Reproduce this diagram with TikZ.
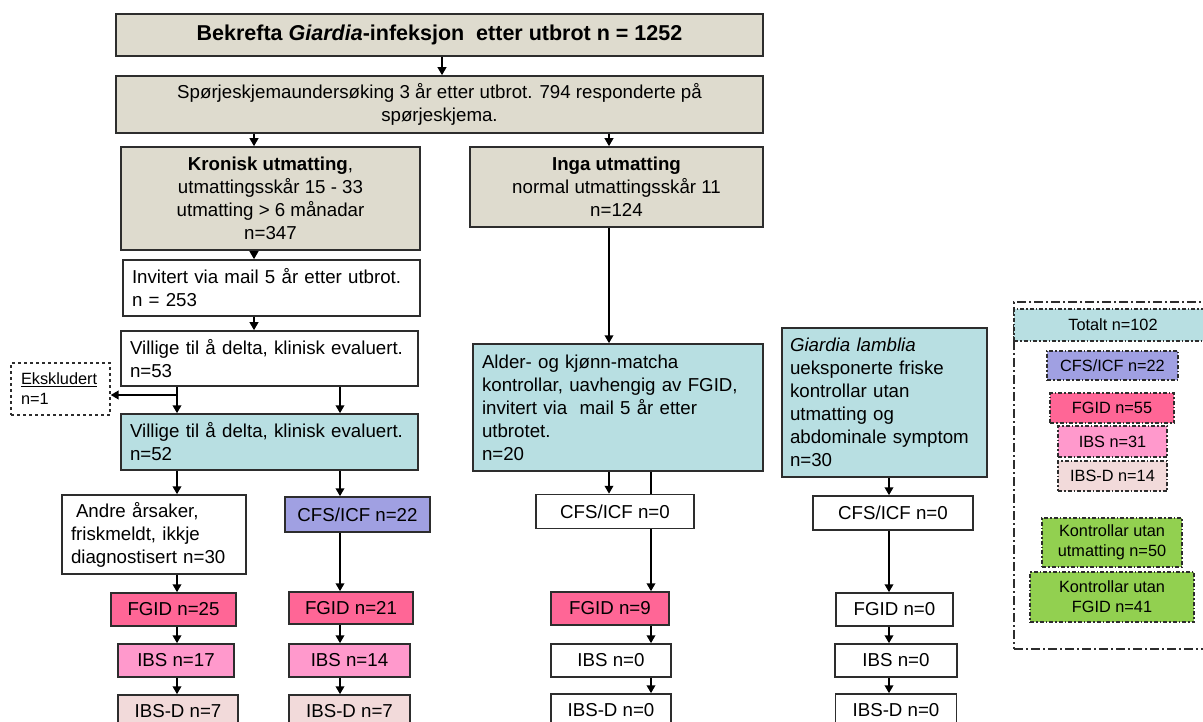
\documentclass[tikz,border=0pt]{standalone}
\usepackage{fontspec}
\setmainfont{Liberation Sans}
\usetikzlibrary{arrows.meta,positioning}

\definecolor{flowtan}{RGB}{222,219,206}
\definecolor{flowaqua}{RGB}{184,223,226}
\definecolor{cfsblue}{RGB}{160,160,226}
\definecolor{fgidpink}{RGB}{255,102,150}
\definecolor{ibspink}{RGB}{255,153,204}
\definecolor{ibsdrose}{RGB}{242,218,218}
\definecolor{ctrlgreen}{RGB}{146,208,80}
\definecolor{boxline}{RGB}{45,45,45}

\newcommand{\flowfont}{\fontsize{18.7}{23}\selectfont\hyphenpenalty=10000\exhyphenpenalty=10000}
\newcommand{\titlefont}{\fontsize{21.5}{25}\selectfont\bfseries}
\newcommand{\keyfont}{\fontsize{16.3}{20}\selectfont}

\begin{document}
\begin{tikzpicture}[
    x=1pt, y=-1pt,
    box/.style={draw=boxline, line width=1.5pt, align=center, inner sep=0pt, font=\flowfont},
    lbox/.style={box, align=left, inner xsep=9pt},
    keybox/.style={draw=boxline, line width=1.2pt, dash pattern=on 4pt off 2pt on 1.5pt off 2pt, align=center, inner sep=0pt, font=\keyfont},
    keyframe/.style={draw=boxline, line width=1.2pt, dash pattern=on 9pt off 3pt on 2pt off 3pt},
    link/.style={-{Triangle[length=8pt,width=8.5pt]}, line width=2.2pt},
    plain/.style={line width=2.2pt}
]
\useasboundingbox (0,0) rectangle (1203,722);

% column positions for the connectors
\coordinate (colT) at (442,0);
\coordinate (colK) at (254,0);
\coordinate (colL) at (177,0);
\coordinate (colC) at (340,0);
\coordinate (colM) at (609,0);
\coordinate (colN) at (651,0);
\coordinate (colR) at (889,0);

% top
\node[box, fill=flowtan, minimum width=647, minimum height=42, font=\titlefont] (bekrefta) at (439.5,35)
    {Bekrefta \textit{Giardia}-infeksjon\ \ etter utbrot n = 1252};
\node[box, fill=flowtan, minimum width=647, minimum height=57] (sporje) at (439.5,104.5)
    {Spørjeskjemaundersøking 3 år etter utbrot. 794 responderte på\\spørjeskjema.};
\node[box, fill=flowtan, minimum width=299, minimum height=103] (kronisk) at (270.5,198.5)
    {\textbf{Kronisk utmatting},\\utmattingsskår 15 - 33\\utmatting > 6 månadar\\n=347};
\node[box, fill=flowtan, minimum width=293, minimum height=80] (inga) at (616.5,187)
    {\textbf{Inga utmatting}\\normal utmattingsskår 11\\n=124};

% left branch
\node[lbox, text width=279, minimum height=56] (invitert) at (271.5,288)
    {Invitert via mail 5 år etter utbrot.\\n = 253};
\node[lbox, text width=279, minimum height=55] (villige53) at (269.5,358.5)
    {Villige til å delta, klinisk evaluert.\\n=53};
\node[lbox, fill=flowaqua, text width=279, minimum height=56] (villige52) at (269.5,442)
    {Villige til å delta, klinisk evaluert.\\n=52};
\node[lbox, dashed, line width=1.2pt, font=\keyfont, inner xsep=10pt, text width=79, minimum height=52] (ekskl) at (60.5,389)
    {\underline{Ekskludert}\\n=1};
\node[lbox, text width=166, minimum height=79] (andre) at (154,534.5)
    {\hspace{5pt}Andre årsaker,\\friskmeldt, ikkje\\diagnostisert n=30};
\node[box, fill=cfsblue, minimum width=145, minimum height=35] (cfs22) at (357.5,514.5) {CFS/ICF n=22};
\node[box, fill=fgidpink, minimum width=125, minimum height=33] (fgid25) at (173.5,609.5) {FGID n=25};
\node[box, fill=fgidpink, minimum width=124, minimum height=32] (fgid21) at (351,608) {FGID n=21};
\node[box, fill=ibspink, minimum width=116, minimum height=33] (ibs17) at (176,660.5) {IBS n=17};
\node[box, fill=ibspink, minimum width=121, minimum height=33] (ibs14) at (349.5,660.5) {IBS n=14};
\node[box, fill=ibsdrose, minimum width=120, minimum height=33] (ibsd7) at (178,711.5) {IBS-D n=7};
\node[box, fill=ibsdrose, minimum width=121, minimum height=33] (ibsd7b) at (349.5,711.5) {IBS-D n=7};

% control branches
\node[lbox, fill=flowaqua, text width=272, minimum height=127] (alder) at (618,407.5)
    {Alder- og kjønn-matcha\\kontrollar, uavhengig av FGID,\\invitert via\ \ mail 5 år etter\\utbrotet.\\n=20};
\node[lbox, fill=flowaqua, inner xsep=8pt, text width=189, minimum height=149] (giardia) at (884.5,402.5)
    {\textit{Giardia lamblia}\\ueksponerte friske\\kontrollar utan\\utmatting og\\abdominale symptom\\n=30};
\node[box, minimum width=158, minimum height=34] (cfs0a) at (615,511.5) {CFS/ICF n=0};
\node[box, minimum width=160, minimum height=34] (cfs0b) at (893,513) {CFS/ICF n=0};
\node[box, fill=fgidpink, minimum width=118, minimum height=33] (fgid9) at (610,608.5) {FGID n=9};
\node[box, minimum width=117, minimum height=33] (fgid0) at (894.5,609.5) {FGID n=0};
\node[box, minimum width=120, minimum height=33] (ibs0a) at (611,660.5) {IBS n=0};
\node[box, minimum width=122, minimum height=33] (ibs0b) at (896,660.5) {IBS n=0};
\node[box, minimum width=120, minimum height=33] (ibsd0a) at (611,710.5) {IBS-D n=0};
\node[box, minimum width=121, minimum height=33] (ibsd0b) at (896,710.5) {IBS-D n=0};

% key
\node[keyframe, minimum width=198, minimum height=347] (keyframe) at (1113,475.5) {};
\node[keybox, fill=flowaqua, minimum width=198, minimum height=32] (kall) at (1113,325) {Totalt n=102};
\node[keybox, fill=cfsblue, minimum width=131, minimum height=29] (kcfs) at (1112.5,365.5) {CFS/ICF n=22};
\node[keybox, fill=fgidpink, minimum width=124, minimum height=30] (kfgid) at (1112,408) {FGID n=55};
\node[keybox, fill=ibspink, minimum width=109, minimum height=31] (kibs) at (1112.5,441.5) {IBS n=31};
\node[keybox, fill=ibsdrose, minimum width=109, minimum height=30] (kibsd) at (1112.5,476) {IBS-D n=14};
\node[keybox, fill=ctrlgreen, minimum width=140, minimum height=49] (kctrl) at (1112,542.5) {Kontrollar utan\\utmatting n=50};
\node[keybox, fill=ctrlgreen, minimum width=164, minimum height=50] (kctrlb) at (1112,597) {Kontrollar utan\\FGID n=41};

% connectors
\draw[link] (bekrefta.south -| colT) -- (sporje.north -| colT);
\draw[link] (sporje.south -| colK) -- (kronisk.north -| colK);
\draw[link] (sporje.south -| colM) -- (inga.north -| colM);
\draw[link] (kronisk.south -| colK) -- (invitert.north -| colK);
\draw[link] (invitert.south -| colK) -- (villige53.north -| colK);
\draw[link] (villige53.south -| colL) -- (villige52.north -| colL);
\draw[link] (villige53.south -| colC) -- (villige52.north -| colC);
\draw[link] ([yshift=-6pt]ekskl.east -| colL) -- ([yshift=-6pt]ekskl.east);
\draw[link] (villige52.south -| colL) -- (andre.north -| colL);
\draw[link] (villige52.south -| colC) -- (cfs22.north -| colC);
\draw[link] (andre.south -| colL) -- (fgid25.north -| colL);
\draw[link] (fgid25.south -| colL) -- (ibs17.north -| colL);
\draw[link] (ibs17.south -| colL) -- (ibsd7.north -| colL);
\draw[link] (cfs22.south -| colC) -- (fgid21.north -| colC);
\draw[link] (fgid21.south -| colC) -- (ibs14.north -| colC);
\draw[link] (ibs14.south -| colC) -- (ibsd7b.north -| colC);
\draw[link] (inga.south -| colM) -- (alder.north -| colM);
\draw[link] (alder.south -| colM) -- (cfs0a.north -| colM);
\draw[plain] (alder.south -| colN) -- (cfs0a.north -| colN);
\draw[link] (cfs0a.south -| colN) -- (fgid9.north -| colN);
\draw[link] (fgid9.south -| colN) -- (ibs0a.north -| colN);
\draw[link] (ibs0a.south -| colN) -- (ibsd0a.north -| colN);
\draw[link] (giardia.south -| colR) -- (cfs0b.north -| colR);
\draw[link] (cfs0b.south -| colR) -- (fgid0.north -| colR);
\draw[link] (fgid0.south -| colR) -- (ibs0b.north -| colR);
\draw[link] (ibs0b.south -| colR) -- (ibsd0b.north -| colR);
\end{tikzpicture}
\end{document}
